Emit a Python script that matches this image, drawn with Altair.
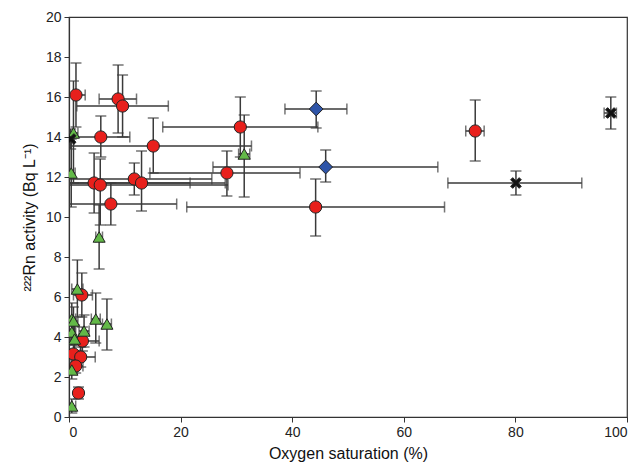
import altair as alt
import pandas as pd

# ---- data ----
groups = ["red", "green", "blue", "black"]

red_x    = [1.25, 8.8, 9.6, 5.7, 15.1, 30.7, 72.8, 28.3, 44.2, 4.5, 5.6, 11.7, 13.0, 7.5, 2.3, 2.4, 0.8, 2.1, 1.2, 1.7]
red_y    = [16.1, 15.9, 15.55, 14.0, 13.55, 14.5, 14.3, 12.2, 10.5, 11.7, 11.6, 11.9, 11.7, 10.65, 6.1, 3.8, 3.15, 3.0, 2.55, 1.2]
red_xlo  = [-0.4, 5.4, 1.4, 0.5, -2.5, 16.8, 71.1, 14.5, 21.1, -12.7, -17.3, -2.2, -2.0, -4.3, 0.8, -0.6, -0.4, 0.5, -0.1, 1.0]
red_xhi  = [2.9, 12.1, 17.8, 10.9, 32.7, 44.6, 74.4, 41.4, 67.3, 21.7, 28.5, 25.6, 28.0, 19.3, 4.2, 5.4, 2.0, 4.7, 2.5, 2.4]
red_ylo  = [14.5, 14.2, 14.0, 13.0, 12.2, 13.0, 12.8, 11.05, 9.05, 10.2, 9.6, 11.1, 10.3, 9.6, 5.0, 3.3, 2.7, 2.5, 2.2, 0.9]
red_yhi  = [17.7, 17.6, 17.1, 15.05, 14.95, 16.0, 15.85, 13.3, 11.9, 13.2, 12.9, 12.7, 13.3, 11.7, 7.2, 4.5, 3.6, 3.5, 2.9, 1.5]

green_x   = [0.8, 0.4, 31.4, 5.4, 1.5, 4.8, 6.8, 0.5, 0.8, 2.7, 0.5, 1.0, 0.5, 0.5]
green_y   = [14.2, 12.2, 13.15, 9.0, 6.4, 4.9, 4.65, 4.9, 4.8, 4.3, 4.25, 3.9, 2.35, 0.55]
green_xlo = [-0.4, -0.3, 30.4, 4.8, 0.5, 4.0, 6.0, -0.2, 0.0, 1.8, -0.2, 0.2, -0.5, -0.2]
green_xhi = [1.6, 1.1, 32.4, 6.0, 2.5, 5.6, 7.6, 1.2, 1.6, 3.6, 1.2, 1.8, 1.5, 1.2]
green_ylo = [11.7, 10.5, 11.0, 7.4, 5.0, 3.7, 3.35, 4.1, 4.0, 3.5, 3.6, 3.2, 1.9, 0.2]
green_yhi = [16.8, 13.9, 15.1, 10.6, 7.85, 6.2, 5.9, 5.7, 5.5, 5.1, 4.9, 4.6, 2.8, 0.9]

blue_x   = [44.3, 46.0]
blue_y   = [15.4, 12.5]
blue_xlo = [38.7, 25.8]
blue_xhi = [49.8, 66.1]
blue_ylo = [14.45, 11.75]
blue_yhi = [16.3, 13.35]

black_x   = [80.1, 97.1, 0.3]
black_y   = [11.7, 15.2, 13.9]
black_xlo = [67.9, 95.9, -0.3]
black_xhi = [91.9, 98.1, 0.9]
black_ylo = [11.1, 14.4, 13.4]
black_yhi = [12.3, 16.0, 14.4]

x_ticks = [0, 20, 40, 60, 80, 100]
y_ticks = [0, 2, 4, 6, 8, 10, 12, 14, 16, 18, 20]

series = {
    "red": (red_x, red_y, red_xlo, red_xhi, red_ylo, red_yhi),
    "green": (green_x, green_y, green_xlo, green_xhi, green_ylo, green_yhi),
    "blue": (blue_x, blue_y, blue_xlo, blue_xhi, blue_ylo, blue_yhi),
    "black": (black_x, black_y, black_xlo, black_xhi, black_ylo, black_yhi),
}

rows = []
for g in groups:
    xs, ys, xl, xh, yl, yh = series[g]
    for i in range(len(xs)):
        rows.append(dict(group=g, x=xs[i], y=ys[i], xlo=xl[i], xhi=xh[i], ylo=yl[i], yhi=yh[i]))
df = pd.DataFrame(rows)

hcaps = pd.concat([df.assign(cx=df.xlo), df.assign(cx=df.xhi)])[["cx", "y"]]
vcaps = pd.concat([df.assign(cy=df.ylo), df.assign(cy=df.yhi)])[["x", "cy"]]

xscale = alt.Scale(domain=[0, 100], nice=False)
yscale = alt.Scale(domain=[0, 20], nice=False)

xaxis = alt.Axis(values=x_ticks, title="Oxygen saturation (%)", grid=False,
                 tickSize=5, labelPadding=3, titlePadding=6, labelOverlap=False)
yaxis = alt.Axis(values=y_ticks, title="²²²Rn activity (Bq L⁻¹)", grid=False,
                 tickSize=5, labelPadding=3, titlePadding=8, labelOverlap=False)

bar_color = "#3a3a3a"

hbars = alt.Chart(df).mark_rule(color=bar_color, strokeWidth=1.5, clip=True).encode(
    x=alt.X("xlo:Q", scale=xscale, axis=xaxis), x2="xhi:Q",
    y=alt.Y("y:Q", scale=yscale, axis=yaxis))
vbars = alt.Chart(df).mark_rule(color=bar_color, strokeWidth=1.5, clip=True).encode(
    x=alt.X("x:Q", scale=xscale, axis=xaxis), y=alt.Y("ylo:Q", scale=yscale, axis=yaxis), y2="yhi:Q")
hc = alt.Chart(hcaps).mark_tick(color=bar_color, thickness=1.5, size=11, orient="vertical", clip=True).encode(
    x=alt.X("cx:Q", scale=xscale, axis=xaxis), y=alt.Y("y:Q", scale=yscale, axis=yaxis))
vc = alt.Chart(vcaps).mark_tick(color=bar_color, thickness=1.5, size=11, orient="horizontal", clip=True).encode(
    x=alt.X("x:Q", scale=xscale, axis=xaxis), y=alt.Y("cy:Q", scale=yscale, axis=yaxis))

xshape = "M-1,-0.6L-0.6,-1L0,-0.4L0.6,-1L1,-0.6L0.4,0L1,0.6L0.6,1L0,0.4L-0.6,1L-1,0.6L-0.4,0Z"

styles = {
    "red": dict(shape="circle", fill="#e8201c", size=150),
    "green": dict(shape="triangle-up", fill="#63b948", size=145),
    "blue": dict(shape="diamond", fill="#2f55a8", size=190),
    "black": dict(shape=xshape, fill="#111111", size=115),
}

point_layers = []
for g in groups:
    st = styles[g]
    point_layers.append(
        alt.Chart(df).transform_filter(alt.datum.group == g).mark_point(
            filled=True, opacity=1, stroke="#222222", strokeWidth=1, clip=True,
            shape=st["shape"], fill=st["fill"], size=st["size"],
        ).encode(
            x=alt.X("x:Q", scale=xscale, axis=xaxis),
            y=alt.Y("y:Q", scale=yscale, axis=yaxis),
        )
    )

chart = alt.layer(hbars, vbars, hc, vc, *point_layers).properties(
    width=558, height=400,
    autosize=alt.AutoSizeParams(type="none"),
    padding={"left": 61, "top": 9, "right": 6, "bottom": 46},
).configure_view(stroke="#333333", strokeWidth=1.2).configure_axis(
    labelFont="Liberation Sans", titleFont="Liberation Sans",
    labelFontSize=14, titleFontSize=16, labelColor="#222222", titleColor="#111111",
    titleFontWeight="normal", domainColor="#333333", tickColor="#333333", domainWidth=1.2,
)

chart.save("out.html", embed_options={"renderer": "svg", "actions": False})
